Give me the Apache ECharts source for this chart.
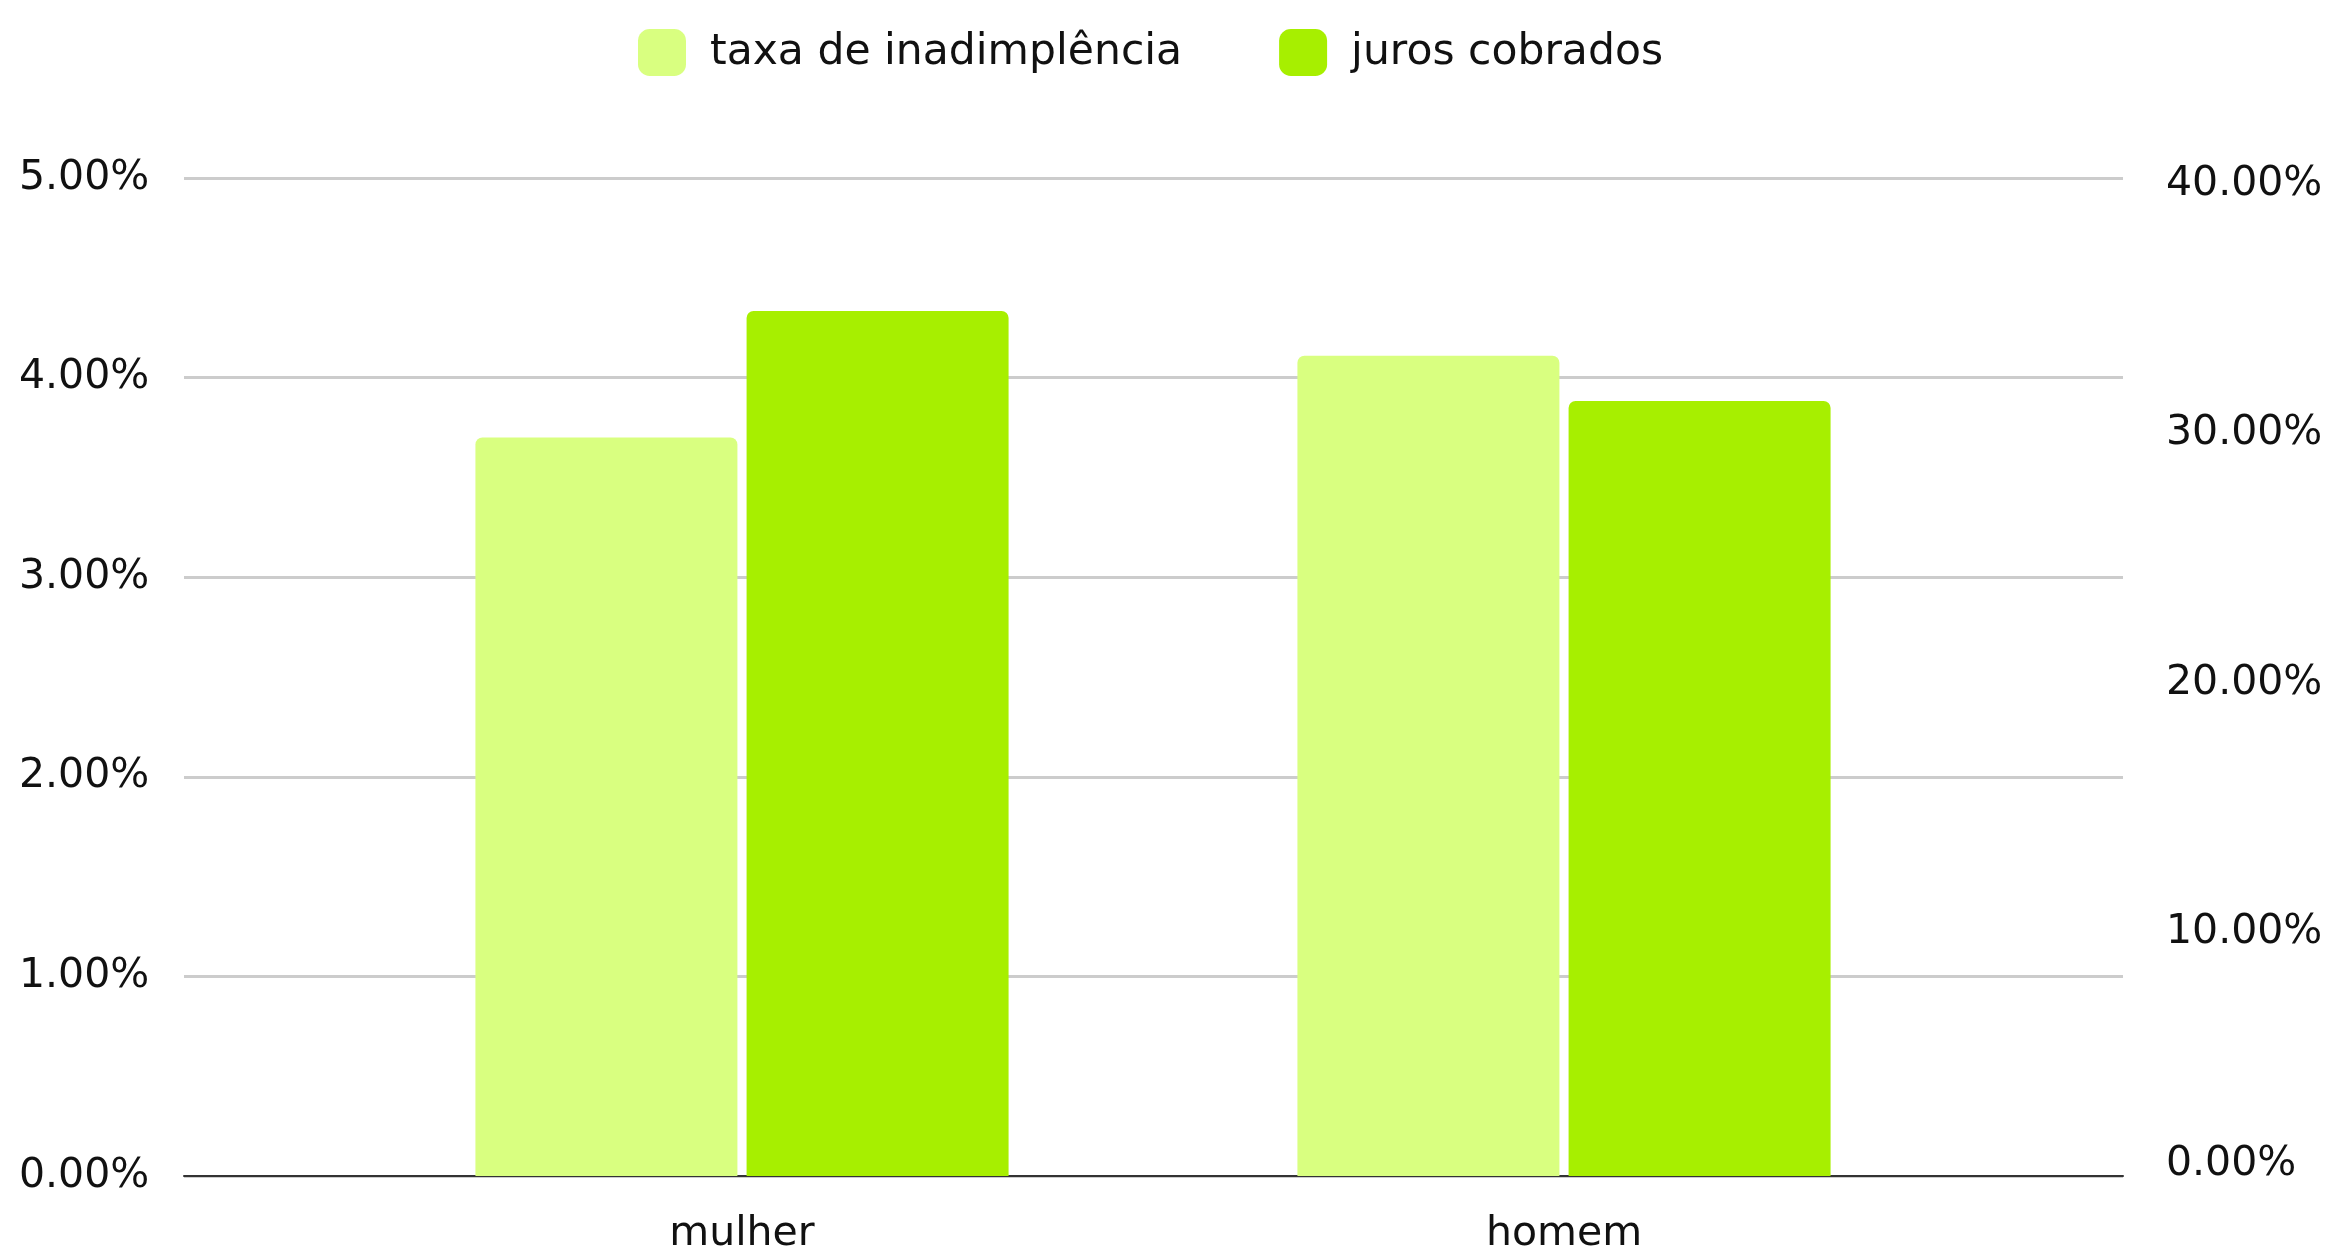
<!DOCTYPE html>
<html>
<head>
<meta charset="utf-8">
<script src="https://cdn.jsdelivr.net/npm/echarts@6/dist/echarts.min.js"></script>
<style>
    html, body { margin: 0; padding: 0; background: #fff; }
    #chart { width: 2331px; height: 1253px; }
</style>
</head>
<body>
<div id="chart"></div>
<script>
// dados
let categorias = ['mulher', 'homem'];
let taxaInadimplencia = [3.70, 4.11];   // eixo da esquerda (%)
let jurosCobrados = [34.67, 31.06];     // eixo da direita (%)
let nomesSeries = ['taxa de inadimplência', 'juros cobrados'];

let fonte = 'DejaVu Sans';
let corClara = '#d9ff80';
let corForte = '#a7ef00';

function pct(v) {
    return v.toFixed(2) + '%';
}

// no eixo da direita o 0.00% fica um pouco acima da linha
function pctDireita(v) {
    if (v === 0) {
        return '{z|' + pct(v) + '}';
    }
    return pct(v);
}

function graficoJuros() {
    let myChart = echarts.init(document.getElementById('chart'));

    let option = {
        animation: false,
        backgroundColor: '#ffffff',
        legend: {
            left: 633,
            top: 24,
            itemWidth: 48,
            itemHeight: 47,
            itemGap: 97,
            icon: 'roundRect',
            textStyle: { fontFamily: fonte, fontSize: 42.5, color: '#111111', padding: [0, 0, 0, 19] },
            data: nomesSeries
        },
        grid: [
            // grade de fundo com as linhas
            { left: 184, right: 208, top: 178, bottom: 77, outerBoundsMode: 'none' },
            // grade das barras
            { left: 331, width: 1644, top: 178, bottom: 77, outerBoundsMode: 'none' }
        ],
        xAxis: [
            {
                type: 'category',
                gridIndex: 0,
                data: categorias,
                axisLine: { lineStyle: { color: '#333333', width: 2 } },
                axisTick: { show: false },
                axisLabel: { show: false }
            },
            {
                type: 'category',
                gridIndex: 1,
                data: categorias,
                axisLine: { show: false },
                axisTick: { show: false },
                axisLabel: { fontFamily: fonte, fontSize: 41, color: '#111111', margin: 38 }
            }
        ],
        yAxis: [
            {
                type: 'value',
                gridIndex: 0,
                position: 'left',
                min: 0, max: 5, interval: 1,
                axisLine: { show: false },
                axisTick: { show: false },
                splitLine: { lineStyle: { color: '#cccccc', width: 3 } },
                axisLabel: {
                    fontFamily: fonte, fontSize: 41, color: '#111111',
                    align: 'left', margin: 165, padding: [8, 0, 0, 0], formatter: pct
                }
            },
            {
                type: 'value',
                gridIndex: 0,
                position: 'right',
                min: 0, max: 40, interval: 10,
                axisLine: { show: false },
                axisTick: { show: false },
                splitLine: { show: false },
                axisLabel: {
                    fontFamily: fonte, fontSize: 41, color: '#111111',
                    align: 'left', margin: 43, padding: [12, 0, 0, 0], formatter: pctDireita,
                    rich: {
                        z: { fontFamily: fonte, fontSize: 41, color: '#111111', padding: [0, 0, 36, 0] }
                    }
                }
            },
            { type: 'value', gridIndex: 1, min: 0, max: 5, show: false, splitLine: { show: false } },
            { type: 'value', gridIndex: 1, min: 0, max: 40, show: false, splitLine: { show: false } }
        ],
        series: [
            {
                name: nomesSeries[0],
                type: 'bar',
                xAxisIndex: 1,
                yAxisIndex: 2,
                barWidth: 262,
                barGap: '3.5%',
                itemStyle: { color: corClara, borderRadius: [7, 7, 0, 0] },
                data: taxaInadimplencia
            },
            {
                name: nomesSeries[1],
                type: 'bar',
                xAxisIndex: 1,
                yAxisIndex: 3,
                barWidth: 262,
                barGap: '3.5%',
                itemStyle: { color: corForte, borderRadius: [7, 7, 0, 0] },
                data: jurosCobrados
            }
        ]
    };

    myChart.setOption(option);
}

graficoJuros();
</script>
</body>
</html>
